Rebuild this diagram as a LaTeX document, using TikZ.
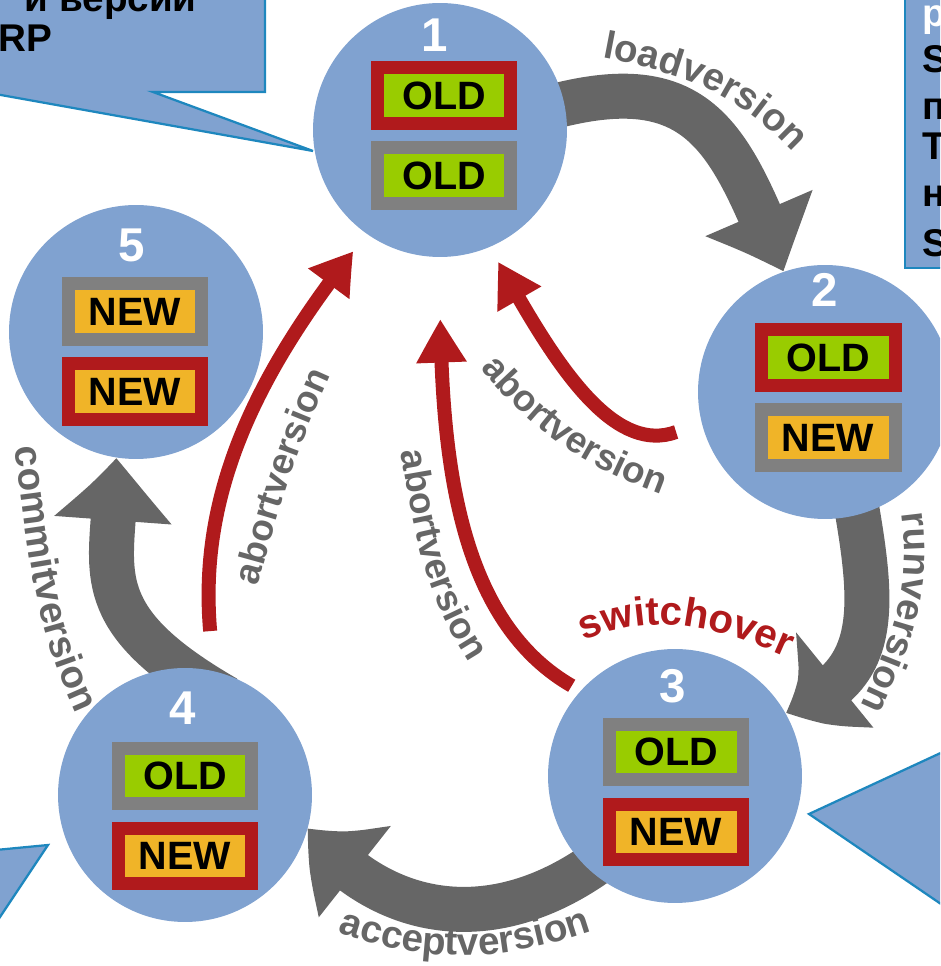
\documentclass[tikz,border=0pt]{standalone}
\usepackage{fontspec}
\setmainfont{Liberation Sans}
\usetikzlibrary{arrows.meta,bending,decorations.text,backgrounds}

\definecolor{ringblue}{RGB}{128,162,208}
\definecolor{calloutline}{RGB}{30,135,190}
\definecolor{abortred}{RGB}{176,26,28}
\definecolor{flowgray}{RGB}{102,102,102}
\definecolor{idlegray}{RGB}{128,128,128}
\definecolor{oldgreen}{RGB}{153,204,0}
\definecolor{newamber}{RGB}{240,180,40}

\begin{document}
\begin{tikzpicture}[x=0.02cm, y=0.02cm,
    stage/.style={circle, fill=ringblue, minimum size=5.08cm, inner sep=0pt},
    num/.style={text=white, font=\bfseries\fontsize{27}{27}\selectfont},
    ver/.style={minimum width=2.68cm, minimum height=1.12cm, line width=0.26cm, inner sep=0pt, font=\bfseries\fontsize{22.5}{22.5}\selectfont},
    old/.style={ver, fill=oldgreen},
    new/.style={ver, fill=newamber},
    live/.style={draw=abortred},
    idle/.style={draw=idlegray},
    flow/.style={draw=flowgray, line width=0.9cm, shorten <=-0.3cm, -{Triangle[length=1.32cm, width=2.2cm, bend]}},
    abort/.style={draw=abortred, line width=0.28cm, -{Triangle[length=0.84cm, width=0.96cm, bend]}},
    callout/.style={fill=ringblue, draw=calloutline, line width=0.045cm},
    note/.style={font=\bfseries\fontsize{22}{22}\selectfont, inner sep=0pt},
    arctext/.style n args={3}{decorate, decoration={text along path, text align=center,
        text={|\bfseries\fontsize{#1}{#1}\selectfont\color{#2}|#3}}}]
    \useasboundingbox (0,0) rectangle (940,966);
    \clip (0,0) rectangle (940,966);

    % stages
    \node[stage] (s1) at (440,836) {};
    \node[num] at (435,931) {1};
    \node[old, live] (s1a) at (444,870) {OLD};
    \node[old, idle] (s1b) at (444,790) {OLD};

    \node[stage] (s2) at (825,574) {};
    \node[num] at (825,676) {2};
    \node[old, live] (s2a) at (828,608) {OLD};
    \node[new, idle] (s2b) at (828,528) {NEW};

    \node[stage] (s3) at (675,190) {};
    \node[num] at (673,280) {3};
    \node[old, idle] (s3a) at (676,214) {OLD};
    \node[new, live] (s3b) at (676,134) {NEW};

    \node[stage] (s4) at (185,171) {};
    \node[num] at (183,258) {4};
    \node[old, idle] (s4a) at (185,190) {OLD};
    \node[new, live] (s4b) at (185,110) {NEW};

    \node[stage] (s5) at (136,634) {};
    \node[num] at (132,721) {5};
    \node[new, idle] (s5a) at (135,654) {NEW};
    \node[new, live] (s5b) at (135,574) {NEW};

    \begin{scope}[on background layer]
        % main cycle
        \draw[flow] (s1.12) to[out=15, in=112, looseness=1.3] (s2.109);
        \draw[flow] (s2.-75) to[out=-80, in=19, looseness=1.2] (s3.30);
        \draw[flow] (s3.227) to[out=216, in=-52, looseness=1.05] (s4.-15);
        \draw[flow, shorten <=-1.2cm] (s4.95) to[out=150, in=-90, looseness=1.2] (s5.261);
        % abort paths
        \draw[abort, shorten <=0.8cm, shorten >=0.44cm] (s4.77) to[out=95, in=231] (s1.235);
        \draw[abort, shorten <=0.2cm, shorten >=1.22cm] (s3.138) to[out=150, in=-90, looseness=0.9] (s1.-90);
        \draw[abort, shorten <=0.54cm, shorten >=0.34cm] (s2.194) to[out=200, in=-60] (s1.293);
        % labels
        \path[arctext={22}{flowgray}{loadversion}] (592,910) to[out=-10, in=132] (800,806);
        \path[arctext={22}{flowgray}{runversion}] (900,463) to[out=-80, in=65] (856,250);
        \path[arctext={22}{flowgray}{acceptversion}] (324,38) to[out=-20, in=-160] (606,40);
        \path[arctext={22}{flowgray}{commitversion}] (14,522) to[out=-82, in=115] (78,248);
        \path[arctext={23}{abortred}{switchover}] (574,321) to[out=25, in=155] (796,304);
        \path[arctext={21}{flowgray}{abortversion}] (255,370) to[out=75, in=-115] (335,600);
        \path[arctext={21}{flowgray}{abortversion}] (398,530) to[out=-80, in=125] (478,290);
        \path[arctext={21}{flowgray}{abortversion}] (478,600) to[out=-50, in=160] (665,470);
    \end{scope}

    % callouts
    \draw[callout] (-20,986) -- (265,986) -- (265,874) -- (153,874) -- (313,815) -- (-16,874) -- (-20,874) -- cycle;
    \node[note, anchor=base east] (n1) at (197,954) {и версий};
    \node[note, anchor=base west] (n2) at (-2,914) {RP};

    \draw[callout] (905,998) -- (905,698) -- (960,698) -- (960,998) -- cycle;
    \node[note, text=white, anchor=base west] (t1) at (922,939) {р};
    \node[note, anchor=base west] (t2) at (922,893) {S};
    \node[note, anchor=base west] (t3) at (922,846) {п};
    \node[note, anchor=base west] (t4) at (922,806) {Т};
    \node[note, anchor=base west] (t5) at (922,759) {н};
    \node[note, anchor=base west] (t6) at (922,709) {S};

    \draw[callout] (-20,114.5) -- (48,121) -- (-10,34) -- cycle;
    \draw[callout] (809,152) -- (960,222) -- (960,49) -- cycle;
\end{tikzpicture}
\end{document}
